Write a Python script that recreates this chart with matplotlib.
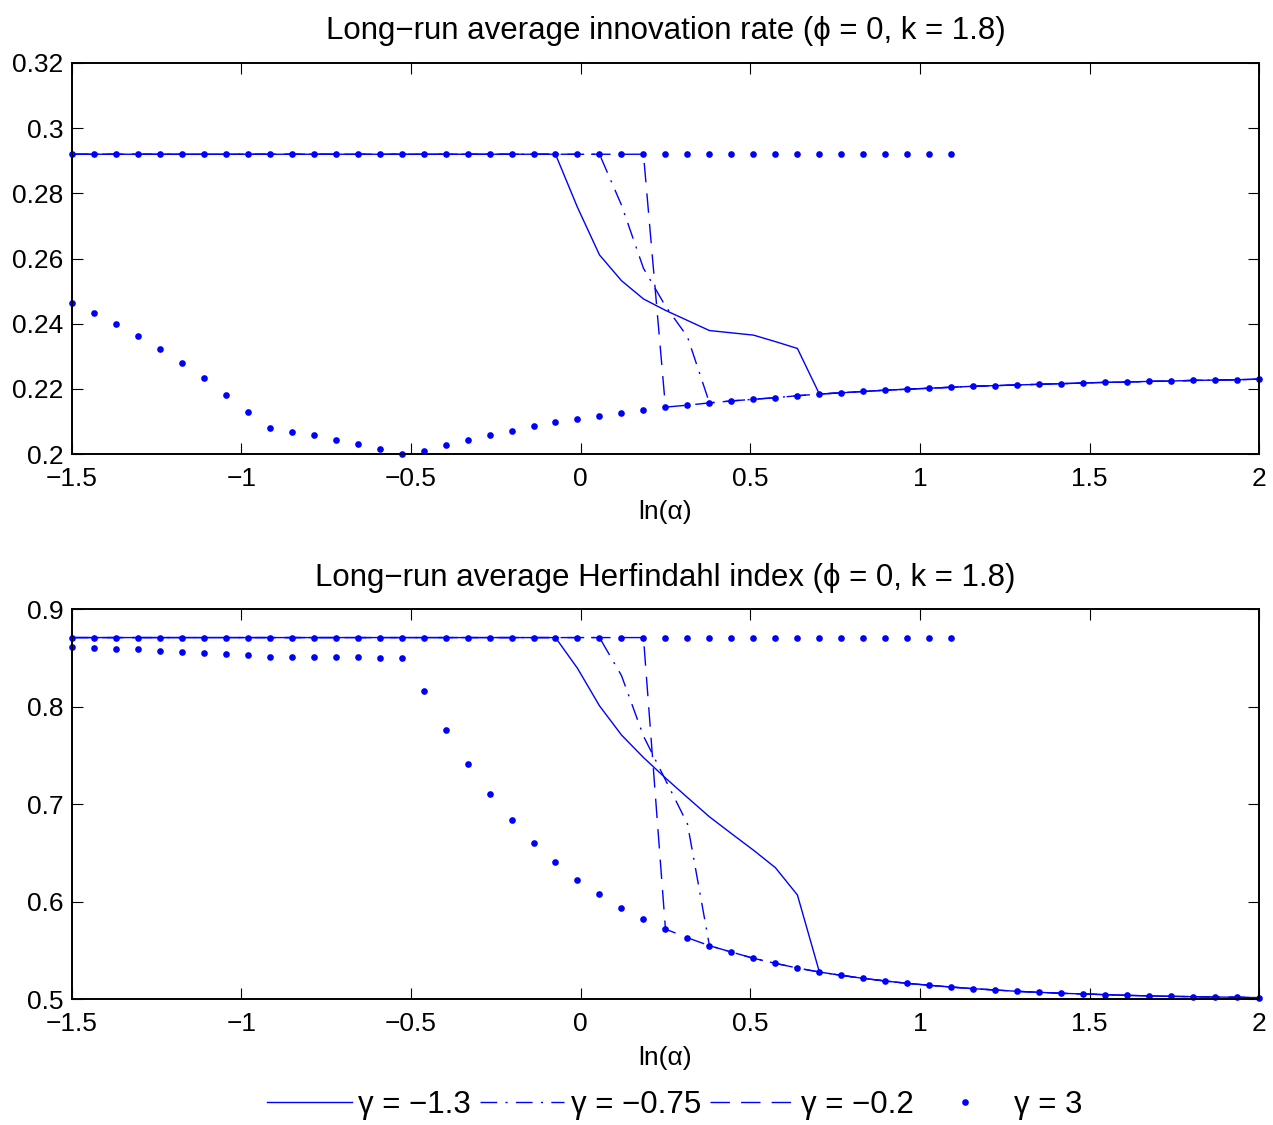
import matplotlib
matplotlib.use("Agg")
import matplotlib.pyplot as plt
from matplotlib.ticker import FuncFormatter

plt.rcParams['font.family'] = ['Liberation Sans', 'DejaVu Sans']

# x grid: ln(alpha)
ln_alpha = [-1.5, -1.4352, -1.3704, -1.3056, -1.2407, -1.1759, -1.1111, -1.0463, -0.9815, -0.9167,
            -0.8519, -0.787, -0.7222, -0.6574, -0.5926, -0.5278, -0.463, -0.3981, -0.3333, -0.2685,
            -0.2037, -0.1389, -0.0741, -0.0093, 0.0556, 0.1204, 0.1852, 0.25, 0.3148, 0.3796,
            0.4444, 0.5093, 0.5741, 0.6389, 0.7037, 0.7685, 0.8333, 0.8981, 0.963, 1.0278,
            1.0926, 1.1574, 1.2222, 1.287, 1.3519, 1.4167, 1.4815, 1.5463, 1.6111, 1.6759,
            1.7407, 1.8056, 1.8704, 1.9352, 2.0]

# ---- innovation rate ----
innov_high = 0.292
innov_low = [0.2464, 0.2434, 0.2399, 0.2362, 0.2321, 0.2279, 0.2233, 0.2182, 0.2128, 0.2079,
             0.2068, 0.2057, 0.2044, 0.2031, 0.2016, 0.2001, 0.2010, 0.2028, 0.2044, 0.2058,
             0.2071, 0.2085, 0.2097, 0.2107, 0.2116, 0.2126, 0.2135, 0.2144, 0.2150, 0.2157,
             0.2163, 0.2168, 0.2173, 0.2179, 0.2184, 0.2188, 0.2192, 0.2196, 0.2199, 0.2202,
             0.2205, 0.2208, 0.2210, 0.2212, 0.2214, 0.2216, 0.2218, 0.2220, 0.2221, 0.2223,
             0.2224, 0.2226, 0.2227, 0.2228, 0.2230]
innov_g13_mid = [0.2757, 0.2611, 0.2532, 0.2476, 0.2441, 0.2410, 0.2379, 0.2372, 0.2365, 0.2345, 0.2324]  # i=23..33
innov_g075_mid = [0.2764, 0.2570, 0.2454, 0.2360]  # i=25..28

# ---- Herfindahl index ----
herf_high = 0.871
herf_low = [0.8614, 0.8603, 0.8597, 0.8590, 0.8576, 0.8566, 0.8552, 0.8542, 0.8528, 0.8511,
            0.8511, 0.8511, 0.8508, 0.8508, 0.8504, 0.8498, 0.8162, 0.7762, 0.7410, 0.7106,
            0.6839, 0.6607, 0.6405, 0.6228, 0.6077, 0.5940, 0.5824, 0.5720, 0.5632, 0.5550,
            0.5485, 0.5421, 0.5369, 0.5321, 0.5280, 0.5246, 0.5215, 0.5188, 0.5164, 0.5144,
            0.5126, 0.5109, 0.5096, 0.5082, 0.5072, 0.5062, 0.5055, 0.5048, 0.5041, 0.5035,
            0.5031, 0.5027, 0.5024, 0.5021, 0.5017]
herf_g13_mid = [0.8395, 0.8010, 0.7711, 0.7480, 0.7270, 0.7070, 0.6872, 0.6700, 0.6530, 0.6350, 0.6070]  # i=23..33
herf_g075_mid = [0.8320, 0.7700, 0.7250, 0.6800]  # i=25..28

# index where each gamma leaves the high branch
g13_jump, g075_jump, g02_jump, g3_high_end = 22, 24, 26, 40

gamma_labels = ['γ = −1.3', 'γ = −0.75', 'γ = −0.2', 'γ = 3']
titles = ['Long−run average innovation rate (ϕ = 0, k = 1.8)',
          'Long−run average Herfindahl index (ϕ = 0, k = 1.8)']
xlabel = 'ln(α)'


def build(high, low, mid13, mid075):
    s13 = [high] * (g13_jump + 1) + mid13 + low[g13_jump + 1 + len(mid13):]
    s075 = [high] * (g075_jump + 1) + mid075 + low[g075_jump + 1 + len(mid075):]
    s02 = [high] * (g02_jump + 1) + low[g02_jump + 1:]
    s3_high = [high] * (g3_high_end + 1)
    return s13, s075, s02, s3_high, low


BLUE = (0, 0, 1)
fig = plt.figure(figsize=(12.73, 11.25), dpi=100)
ax1 = fig.add_axes([0.0563, 0.5964, 0.9329, 0.3476])
ax2 = fig.add_axes([0.0563, 0.1117, 0.9329, 0.3467])

FS = 19
FS_BIG = 22.5
fmt = FuncFormatter(lambda v, p: ('%g' % round(v, 6)).replace('-', '−'))

panels = [
    (ax1, build(innov_high, innov_low, innov_g13_mid, innov_g075_mid), (0.2, 0.32),
     [0.2, 0.22, 0.24, 0.26, 0.28, 0.3, 0.32], titles[0]),
    (ax2, build(herf_high, herf_low, herf_g13_mid, herf_g075_mid), (0.5, 0.9),
     [0.5, 0.6, 0.7, 0.8, 0.9], titles[1]),
]

handles = None
for ax, (s13, s075, s02, s3h, s3l), ylim, yticks, title in panels:
    h1, = ax.plot(ln_alpha, s13, '-', color=BLUE, lw=1.0, label=gamma_labels[0])
    h2, = ax.plot(ln_alpha, s075, color=BLUE, lw=1.0, dashes=(12, 6, 1.5, 6), label=gamma_labels[1])
    h3, = ax.plot(ln_alpha, s02, color=BLUE, lw=1.0, dashes=(14, 8), label=gamma_labels[2])
    h4, = ax.plot(ln_alpha[:len(s3h)], s3h, 'o', color=BLUE, ms=4.8, mew=0, clip_on=False,
                  label=gamma_labels[3])
    ax.plot(ln_alpha, s3l, 'o', color=BLUE, ms=4.8, mew=0, clip_on=False)
    handles = [h1, h2, h3, h4]
    ax.set_xlim(-1.5, 2)
    ax.set_ylim(*ylim)
    ax.set_xticks([-1.5, -1, -0.5, 0, 0.5, 1, 1.5, 2])
    ax.set_yticks(yticks)
    ax.xaxis.set_major_formatter(fmt)
    ax.yaxis.set_major_formatter(fmt)
    ax.tick_params(direction='in', top=True, right=True, length=8, width=0.8,
                   labelsize=FS, pad=6)
    ax.tick_params(axis='x', pad=9)
    for sp in ax.spines.values():
        sp.set_linewidth(1.4)
    ax.set_title(title, fontsize=FS_BIG, pad=17)
    ax.set_xlabel(xlabel, fontsize=FS, labelpad=7)

fig.legend(handles=handles, labels=gamma_labels, loc='center', ncol=4,
           bbox_to_anchor=(0.53, 0.0178), frameon=False, fontsize=FS_BIG,
           handlelength=2.7, handletextpad=0.2, columnspacing=0.3)

fig.savefig('out.png', dpi=100)
